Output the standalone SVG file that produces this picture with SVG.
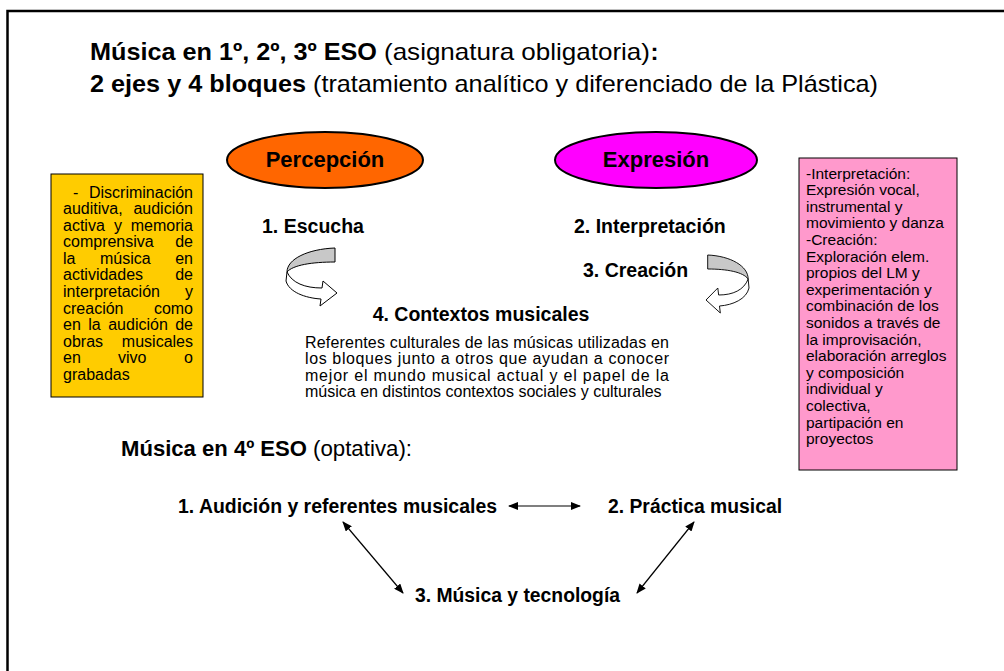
<svg xmlns="http://www.w3.org/2000/svg" width="1004" height="671" viewBox="0 0 1004 671">
<style>
text{font-family:"Liberation Sans",Arial,sans-serif;fill:#000}
.b{font-weight:bold}
.ttl{font-size:24px}
.body{font-size:16px}
.pk{font-size:15.5px}
.lbl{font-size:19.5px;font-weight:bold}
.bl{font-size:19.4px;font-weight:bold}
.ell{stroke:#000;stroke-width:2}
.box{stroke:#000;stroke-width:1}
.rib{stroke:#000;stroke-width:1}
.con{stroke:#000;stroke-width:1.2;fill:none;marker-start:url(#ah);marker-end:url(#ah)}
</style>
<defs>
<marker id="ah" viewBox="0 0 10 8" refX="9" refY="4" markerWidth="10" markerHeight="8" markerUnits="userSpaceOnUse" orient="auto-start-reverse">
<path d="M0,0 L10,4 L0,8 Z" fill="#000"/>
</marker>
</defs>
<rect width="1004" height="671" fill="#fff"/>
<path d="M7.5,671 L7.5,11 L1004,11" fill="none" stroke="#000" stroke-width="2.5"/>

<g id="title">
<text class="ttl" y="60"><tspan class="b" x="90" textLength="287" lengthAdjust="spacingAndGlyphs">Música en 1º, 2º, 3º ESO</tspan><tspan x="384" textLength="266" lengthAdjust="spacingAndGlyphs">(asignatura obligatoria)</tspan><tspan class="b" x="650.5">:</tspan></text>
<text class="ttl" y="92"><tspan class="b" x="90" textLength="216" lengthAdjust="spacingAndGlyphs">2 ejes y 4 bloques</tspan><tspan x="313" textLength="565" lengthAdjust="spacingAndGlyphs">(tratamiento analítico y diferenciado de la Plástica)</tspan></text>
</g>

<g id="percepcion">
<ellipse class="ell" cx="325" cy="160" rx="98" ry="28" fill="#FF6600"/>
<text class="b" x="325" y="167" font-size="22" text-anchor="middle">Percepción</text>
</g>
<g id="expresion">
<ellipse class="ell" cx="656" cy="160" rx="101" ry="28" fill="#FF00FF"/>
<text class="b" x="656" y="167" font-size="22" text-anchor="middle">Expresión</text>
</g>

<g id="box-percepcion">
<rect class="box" x="51" y="174" width="152" height="223" fill="#FFCC00"/>
<text x="73" y="197.5" class="body">-</text><text x="193" y="197.5" class="body" text-anchor="end">Discriminación</text>
<text x="63" y="214" class="body">auditiva,</text><text x="193" y="214" class="body" text-anchor="end">audición</text>
<text x="63" y="230.6" class="body">activa</text><text x="114" y="230.6" class="body">y</text><text x="193" y="230.6" class="body" text-anchor="end">memoria</text>
<text x="63" y="247.2" class="body">comprensiva</text><text x="193" y="247.2" class="body" text-anchor="end">de</text>
<text x="63" y="263.8" class="body">la</text><text x="100" y="263.8" class="body">música</text><text x="193" y="263.8" class="body" text-anchor="end">en</text>
<text x="63" y="280.4" class="body">actividades</text><text x="193" y="280.4" class="body" text-anchor="end">de</text>
<text x="63" y="297" class="body">interpretación</text><text x="193" y="297" class="body" text-anchor="end">y</text>
<text x="63" y="313.6" class="body">creación</text><text x="193" y="313.6" class="body" text-anchor="end">como</text>
<text x="63" y="330.2" class="body">en</text><text x="88.3" y="330.2" class="body">la</text><text x="108.2" y="330.2" class="body">audición</text><text x="193" y="330.2" class="body" text-anchor="end">de</text>
<text x="63" y="346.8" class="body">obras</text><text x="193" y="346.8" class="body" text-anchor="end">musicales</text>
<text x="63" y="363.4" class="body">en</text><text x="118" y="363.4" class="body">vivo</text><text x="193" y="363.4" class="body" text-anchor="end">o</text>
<text x="63" y="380" class="body">grabadas</text>
</g>

<g id="box-expresion">
<rect class="box" x="799" y="158" width="158" height="312" fill="#FF99CC"/>
<text class="pk" x="806" y="178.5">-Interpretación:</text>
<text class="pk" x="806" y="195.1">Expresión vocal,</text>
<text class="pk" x="806" y="211.7">instrumental y</text>
<text class="pk" x="806" y="228.3">movimiento y danza</text>
<text class="pk" x="806" y="244.9">-Creación:</text>
<text class="pk" x="806" y="261.5">Exploración elem.</text>
<text class="pk" x="806" y="278.1">propios del LM y</text>
<text class="pk" x="806" y="294.7">experimentación y</text>
<text class="pk" x="806" y="311.3">combinación de los</text>
<text class="pk" x="806" y="327.9">sonidos a través de</text>
<text class="pk" x="806" y="344.5">la improvisación,</text>
<text class="pk" x="806" y="361.1">elaboración arreglos</text>
<text class="pk" x="806" y="377.7">y composición</text>
<text class="pk" x="806" y="394.3">individual y</text>
<text class="pk" x="806" y="410.9">colectiva,</text>
<text class="pk" x="806" y="427.5">partipación en</text>
<text class="pk" x="806" y="444.1">proyectos</text>
</g>

<g id="bloque-1"><text class="lbl" x="262" y="233">1. Escucha</text></g>
<g id="bloque-2"><text class="lbl" x="574" y="233">2. Interpretación</text></g>
<g id="bloque-3"><text class="lbl" x="583" y="277">3. Creación</text></g>
<g id="bloque-4">
<text class="lbl" x="481" y="321" text-anchor="middle">4. Contextos musicales</text>
<text class="body" x="305" y="347.5" textLength="364" lengthAdjust="spacing">Referentes culturales de las músicas utilizadas en</text>
<text class="body" x="305" y="364" textLength="364" lengthAdjust="spacing">los bloques junto a otros que ayudan a conocer</text>
<text class="body" x="305" y="380.5" textLength="364" lengthAdjust="spacing">mejor el mundo musical actual y el papel de la</text>
<text class="body" x="305" y="397">música en distintos contextos sociales y culturales</text>
</g>

<g id="curved-arrows">
<g id="arrow-left">
<path class="rib" d="M335,248 L335,262 C312,262 293,265 287,272 C287,259 308,249 335,248 Z" fill="#C8C8C8"/>
<path class="rib" d="M287,272 L286,281 C289,292 305,298 321,299 L320,306 L337,293 L323,281 L322,288 C305,288 292,283 287,272 Z" fill="#fff"/>
</g>
<g id="arrow-right" transform="matrix(-0.843 0 0 1 990.1 7)">
<path class="rib" d="M335,248 L335,262 C312,262 293,265 287,272 C287,259 308,249 335,248 Z" fill="#C8C8C8"/>
<path class="rib" d="M287,272 L286,281 C289,292 305,298 321,299 L320,306 L337,293 L323,281 L322,288 C305,288 292,283 287,272 Z" fill="#fff"/>
</g>
</g>

<g id="title-4eso">
<text font-size="22" y="456"><tspan class="b" x="121" textLength="186" lengthAdjust="spacingAndGlyphs">Música en 4º ESO</tspan><tspan x="313" textLength="99" lengthAdjust="spacingAndGlyphs">(optativa):</tspan></text>
</g>
<g id="n-audicion"><text class="bl" x="178" y="513" textLength="319" lengthAdjust="spacingAndGlyphs">1. Audición y referentes musicales</text></g>
<g id="n-practica"><text class="bl" x="608" y="513" textLength="174" lengthAdjust="spacingAndGlyphs">2. Práctica musical</text></g>
<g id="n-tecnologia"><text class="bl" x="415" y="602" textLength="205" lengthAdjust="spacingAndGlyphs">3. Música y tecnología</text></g>

<g id="connectors">
<line class="con" x1="509" y1="506" x2="580" y2="506"/>
<line class="con" x1="343" y1="522" x2="403" y2="593"/>
<line class="con" x1="694" y1="522" x2="637" y2="593"/>
</g>
</svg>
